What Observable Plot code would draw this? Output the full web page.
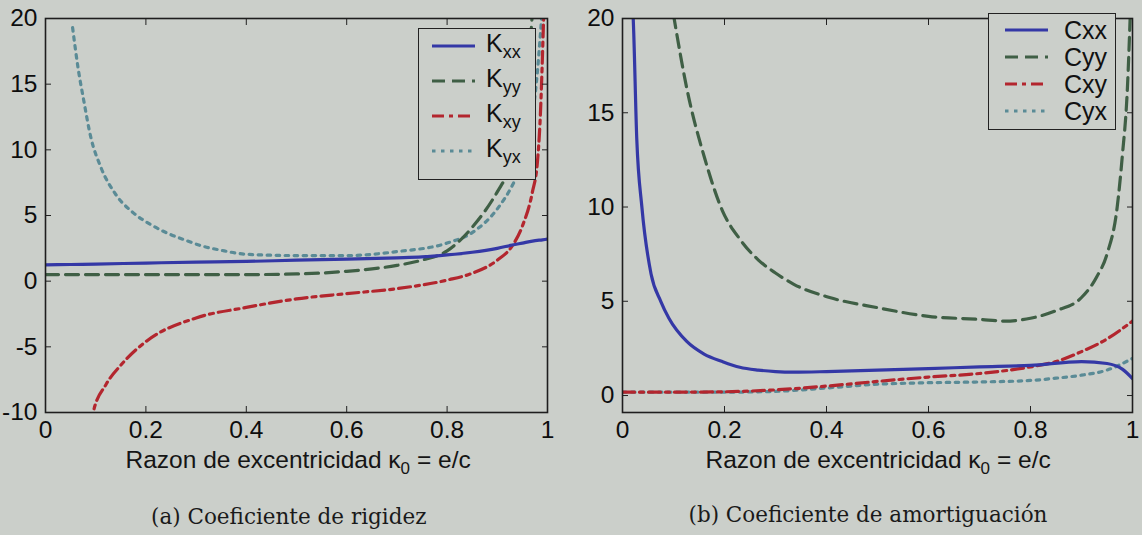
<!DOCTYPE html>
<html>
<head>
<meta charset="utf-8">
<script src="https://cdn.jsdelivr.net/npm/d3@7"></script>
<script src="https://cdn.jsdelivr.net/npm/@observablehq/plot@0.6"></script>
<style>
  html, body { margin: 0; padding: 0; }
  body { width: 1142px; height: 535px; background: #cbcfca; position: relative; overflow: hidden; font-family: "Liberation Sans", Arial, sans-serif; }
  .panel { position: absolute; top: 0; }
  .xlabel { position: absolute; font-size: 24.5px; color: #151515; white-space: nowrap; line-height: 1; }
  .xlabel sub { font-size: 17px; }
  .caption { position: absolute; font-family: "DejaVu Serif", "Liberation Serif", serif; font-size: 21.5px; color: #1a1a1a; white-space: nowrap; line-height: 1; }
  .legend { position: absolute; border: 1.5px solid #222; background: #cbcfca; }
  .legend .row { position: absolute; left: 0; height: 30px; display: flex; align-items: center; }
  .legend .row span { font-size: 25px; color: #111; }
  .legend .row span sub { font-size: 18px; }
</style>
</head>
<body>
<div id="left" class="panel" style="left:0"></div>
<div id="right" class="panel" style="left:580px"></div>
<script>
// ---------- data ----------
const kx = [0, 0.05, 0.1, 0.2, 0.3, 0.4, 0.5, 0.6, 0.7, 0.75, 0.8, 0.85, 0.9, 0.93, 0.95, 0.97, 0.99, 1.0];
const Kxx = [1.24, 1.27, 1.3, 1.38, 1.45, 1.5, 1.6, 1.68, 1.78, 1.85, 2.0, 2.2, 2.5, 2.75, 2.9, 3.05, 3.15, 3.2];
const Kyy = [0.5, 0.5, 0.5, 0.5, 0.5, 0.5, 0.55, 0.75, 1.2, 1.6, 2.3, 4.1, 6.8, 9.0, 11.5, 20.5, null, null];

const kyxX = [0.054, 0.065, 0.076, 0.09, 0.11, 0.14, 0.175, 0.21, 0.243, 0.28, 0.31, 0.35, 0.4, 0.5, 0.6, 0.7, 0.8, 0.85, 0.9, 0.93, 0.95, 0.97, 0.98, 0.99];
const Kyx = [19.3, 16.2, 13.8, 11.0, 8.7, 6.6, 5.2, 4.3, 3.65, 3.1, 2.7, 2.35, 2.05, 1.95, 1.95, 2.25, 2.9, 3.7, 5.5, 7.3, 9.0, 12.5, 16.0, 21.0];

const kxyX = [0.09, 0.095, 0.12, 0.15, 0.2, 0.3, 0.4, 0.5, 0.6, 0.7, 0.8, 0.85, 0.9, 0.93, 0.95, 0.97, 0.98, 0.985, 0.993];
const Kxy = [-11, -10, -7.9, -6.4, -4.6, -2.8, -2.0, -1.35, -0.95, -0.57, 0.08, 0.6, 1.6, 2.7, 4.2, 6.8, 9.1, 12.0, 21.0];

const cxxX = [0.019, 0.021, 0.028, 0.038, 0.056, 0.075, 0.091, 0.126, 0.16, 0.196, 0.23, 0.266, 0.3, 0.336, 0.4, 0.5, 0.6, 0.7, 0.8, 0.9, 0.95, 0.98, 1.0];
const Cxx = [21, 20, 13.6, 10.0, 6.45, 5.0, 4.1, 2.87, 2.2, 1.8, 1.5, 1.35, 1.27, 1.24, 1.27, 1.35, 1.43, 1.52, 1.6, 1.8, 1.7, 1.4, 0.9];

const cyyX = [0.1, 0.126, 0.161, 0.196, 0.23, 0.266, 0.3, 0.336, 0.406, 0.5, 0.6, 0.7, 0.75, 0.8, 0.85, 0.9, 0.93, 0.95, 0.97, 0.98, 0.99, 0.996];
const Cyy = [20.2, 16.3, 12.6, 9.8, 8.3, 7.2, 6.5, 5.9, 5.2, 4.66, 4.2, 4.04, 3.95, 4.1, 4.5, 5.2, 6.3, 7.5, 10.0, 12.7, 16.3, 20.5];

const cx = [0, 0.1, 0.2, 0.3, 0.4, 0.5, 0.6, 0.7, 0.8, 0.85, 0.9, 0.95, 1.0];
const Cxy = [0.18, 0.18, 0.2, 0.3, 0.5, 0.75, 0.98, 1.17, 1.52, 1.8, 2.33, 3.0, 3.95];
const Cyx = [0.18, 0.18, 0.18, 0.22, 0.4, 0.6, 0.68, 0.72, 0.8, 0.92, 1.08, 1.35, 1.97];

const xTicks = [0, 0.2, 0.4, 0.6, 0.8, 1];
const kTicks = [-10, -5, 0, 5, 10, 15, 20];
const cTicks = [0, 5, 10, 15, 20];

const kNames = ["K<sub>xx</sub>", "K<sub>yy</sub>", "K<sub>xy</sub>", "K<sub>yx</sub>"];
const cNames = ["Cxx", "Cyy", "Cxy", "Cyx"];

// ---------- styles ----------
const styles = [
  {stroke: "#3438a6", strokeDasharray: null},
  {stroke: "#3f5f45", strokeDasharray: "13,7"},
  {stroke: "#b3262e", strokeDasharray: "12,5,4,5"},
  {stroke: "#5a8b96", strokeDasharray: "3.5,5.5"}
];

function toRows(xs, ys) {
  return xs.map((x, i) => ({x, y: ys[i]})).filter(d => d.y != null);
}

function line(rows, s) {
  return Plot.line(rows, {x: "x", y: "y", stroke: s.stroke, strokeWidth: 3.2, strokeDasharray: s.strokeDasharray, clip: true, curve: "monotone-x"});
}

function axes(yTicks) {
  return [
    Plot.axisX({ticks: xTicks, tickSize: -6, tickPadding: 14, tickFormat: d => String(d), label: null, fontSize: 24.5, stroke: "#222", fill: "#0d0d0d"}),
    Plot.axisX({anchor: "top", ticks: xTicks, tickSize: -6, tickFormat: () => "", label: null, stroke: "#222"}),
    Plot.axisY({ticks: yTicks, tickSize: -6, tickPadding: 14, tickFormat: d => String(d), label: null, fontSize: 24.5, stroke: "#222", fill: "#0d0d0d"}),
    Plot.axisY({anchor: "right", ticks: yTicks, tickSize: -6, tickFormat: () => "", label: null, stroke: "#222"}),
    Plot.frame({stroke: "#1e1e1e", strokeWidth: 1.6})
  ];
}

const left = Plot.plot({
  width: 560, height: 445,
  marginLeft: 45, marginRight: 13, marginTop: 18, marginBottom: 33,
  style: {background: "transparent", color: "#111", fontFamily: "Liberation Sans, Arial, sans-serif", fontSize: "24px", overflow: "visible"},
  x: {domain: [0, 1]},
  y: {domain: [-10, 20]},
  marks: [
    line(toRows(kyxX, Kyx), styles[3]),
    line(toRows(kxyX, Kxy), styles[2]),
    line(toRows(kx, Kyy), styles[1]),
    line(toRows(kx, Kxx), styles[0]),
    ...axes(kTicks)
  ]
});
document.getElementById("left").append(left);

const right = Plot.plot({
  width: 562, height: 445,
  marginLeft: 42, marginRight: 10, marginTop: 18, marginBottom: 33,
  style: {background: "transparent", color: "#111", fontFamily: "Liberation Sans, Arial, sans-serif", fontSize: "24px", overflow: "visible"},
  x: {domain: [0, 1]},
  y: {domain: [-0.9, 20]},
  marks: [
    line(toRows(cx, Cyx), styles[3]),
    line(toRows(cx, Cxy), styles[2]),
    line(toRows(cyyX, Cyy), styles[1]),
    line(toRows(cxxX, Cxx), styles[0]),
    ...axes(cTicks)
  ]
});
document.getElementById("right").append(right);

// ---------- legends (HTML overlays) ----------
function legend(names, box, rowH, rowTop, padL, gap) {
  const div = document.createElement("div");
  div.className = "legend";
  Object.assign(div.style, {left: box.x + "px", top: box.y + "px", width: box.w + "px", height: box.h + "px"});
  names.forEach((n, i) => {
    const r = document.createElement("div");
    r.className = "row";
    r.style.top = (rowTop + i * rowH) + "px";
    r.style.left = padL + "px";
    const s = styles[i];
    r.innerHTML = `<svg width="43" height="10"><line x1="0" y1="5" x2="43" y2="5" stroke="${s.stroke}" stroke-width="3.2" ${s.strokeDasharray ? `stroke-dasharray="${s.strokeDasharray}"` : ""}/></svg><span style="margin-left:${gap}px">${n}</span>`;
    div.append(r);
  });
  document.body.append(div);
}
legend(kNames, {x: 418, y: 28, w: 116, h: 150}, 35, 2, 13, 11);
legend(cNames, {x: 988, y: 13, w: 126, h: 115}, 27, 1, 16, 16);

// ---------- x labels & captions ----------
function addText(cls, html, cx, y) {
  const d = document.createElement("div");
  d.className = cls;
  d.innerHTML = html;
  d.style.top = y + "px";
  document.body.append(d);
  d.style.left = (cx - d.offsetWidth / 2) + "px";
}
const xl = "Razon de excentricidad κ<sub>0</sub> = e/c";
addText("xlabel", xl, 298, 448);
addText("xlabel", xl, 878, 448);
addText("caption", "(a) Coeficiente de rigidez", 289, 506);
addText("caption", "(b) Coeficiente de amortiguación", 868, 504);
</script>
</body>
</html>
